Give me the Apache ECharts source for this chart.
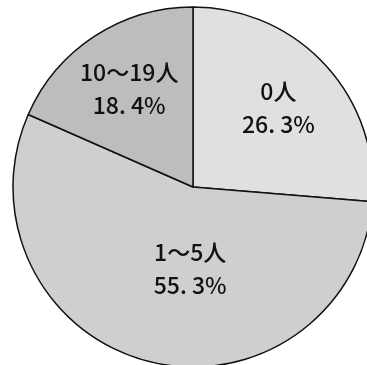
<!DOCTYPE html>
<html lang="ja" style="height: 100%">
<head>
  <meta charset="utf-8">
</head>
<body style="height: 100%; margin: 0; background: #fff">
  <div id="container" style="width: 367px; height: 365px"></div>

  <script type="text/javascript" src="https://cdn.jsdelivr.net/npm/echarts@6/dist/echarts.min.js"></script>

  <script type="text/javascript">
    // 人数区分と割合(%)
    var categories = ['0人', '1〜5人', '10〜19人'];
    var percents = [26.3, 55.3, 18.4];
    var colors = ['#e0e0e0', '#cfcfcf', '#bdbdbd'];

    // ラベル位置の微調整 (px)
    var labelShift = [[17, -16], [20, -8], [-13, -20]];

    var dom = document.getElementById('container');
    var myChart = echarts.init(dom, null, { renderer: 'canvas' });

    var option = {
      animation: false,
      series: [{
        type: 'pie',
        center: [193, 187],
        radius: 180,
        startAngle: 90,
        clockwise: true,
        avoidLabelOverlap: false,
        itemStyle: {
          borderColor: '#111',
          borderWidth: 1.5
        },
        label: {
          position: 'inside',
          fontFamily: '"Noto Sans CJK JP", sans-serif',
          fontSize: 23,
          fontWeight: 500,
          lineHeight: 33,
          color: '#111',
          align: 'center',
          formatter: function (p) {
            return p.name + '\n' + p.value.toFixed(1).replace('.', '. ') + '%';
          }
        },
        labelLine: { show: false },
        labelLayout: function (params) {
          var s = labelShift[params.dataIndex];
          return { dx: s[0], dy: s[1] };
        },
        data: categories.map(function (name, i) {
          return { name: name, value: percents[i], itemStyle: { color: colors[i] } };
        })
      }]
    };

    myChart.setOption(option);
    window.addEventListener('resize', myChart.resize);
  </script>
</body>
</html>
